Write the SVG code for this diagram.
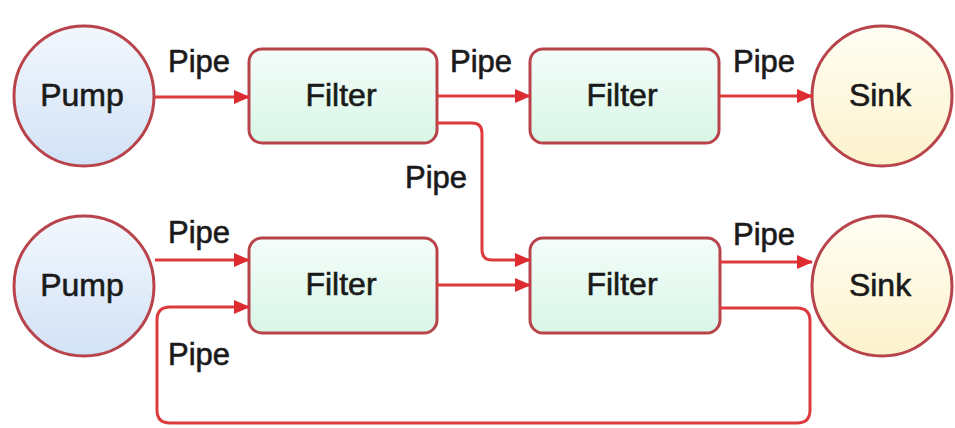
<svg xmlns="http://www.w3.org/2000/svg" width="955" height="428" viewBox="0 0 955 428">
<defs>
<linearGradient id="gPump" x1="0" y1="0" x2="0" y2="1"><stop offset="0" stop-color="#f2f7fd"/><stop offset="1" stop-color="#d2e2f6"/></linearGradient>
<linearGradient id="gSink" x1="0" y1="0" x2="0" y2="1"><stop offset="0" stop-color="#fffef4"/><stop offset="1" stop-color="#fcf2cc"/></linearGradient>
<linearGradient id="gFilter" x1="0" y1="0" x2="0" y2="1"><stop offset="0" stop-color="#f4fdfa"/><stop offset="1" stop-color="#d8f6e6"/></linearGradient>
<marker id="arr" markerWidth="16" markerHeight="14" refX="15" refY="7" orient="auto" markerUnits="userSpaceOnUse"><path d="M0,0 L16,7 L0,14 Z" fill="#dd2b30"/></marker>
<style>
.node{stroke:#b8434b;stroke-width:3}
.lbl{font-family:"Liberation Sans",Arial,sans-serif;font-size:32px;fill:#1a1a1a;stroke:#1a1a1a;stroke-width:0.6;text-anchor:middle}
.pipe{font-family:"Liberation Sans",Arial,sans-serif;font-size:31px;fill:#1a1a1a;stroke:#1a1a1a;stroke-width:0.6;text-anchor:middle}
.conn{fill:none;stroke:#dd3a3e;stroke-width:3}
</style>
</defs>
<rect width="955" height="428" fill="#ffffff"/>
<g id="pump1"><circle class="node" cx="84" cy="96" r="70" fill="url(#gPump)"/><text class="lbl" x="82" y="106">Pump</text></g>
<g id="filter1"><rect class="node" x="249" y="49" width="188" height="94" rx="13" fill="url(#gFilter)"/><text class="lbl" x="341" y="106">Filter</text></g>
<g id="filter2"><rect class="node" x="530" y="49" width="189" height="94" rx="13" fill="url(#gFilter)"/><text class="lbl" x="622" y="106">Filter</text></g>
<g id="sink1"><circle class="node" cx="882" cy="96" r="70" fill="url(#gSink)"/><text class="lbl" x="880" y="106">Sink</text></g>
<g id="pump2"><circle class="node" cx="84" cy="286" r="70" fill="url(#gPump)"/><text class="lbl" x="82" y="296">Pump</text></g>
<g id="filter3"><rect class="node" x="249" y="238" width="188" height="95" rx="13" fill="url(#gFilter)"/><text class="lbl" x="341" y="295">Filter</text></g>
<g id="filter4"><rect class="node" x="530" y="238" width="190" height="95" rx="13" fill="url(#gFilter)"/><text class="lbl" x="622" y="295">Filter</text></g>
<g id="sink2"><circle class="node" cx="882" cy="286" r="70" fill="url(#gSink)"/><text class="lbl" x="880" y="296">Sink</text></g>
<g id="connectors">
<path class="conn" d="M155,97 L249,97" marker-end="url(#arr)"/>
<path class="conn" d="M437,96 L530,96" marker-end="url(#arr)"/>
<path class="conn" d="M719,96 L812,96" marker-end="url(#arr)"/>
<path class="conn" d="M437,123 L472,123 Q482,123 482,133 L482,250 Q482,260 492,260 L530,260" marker-end="url(#arr)"/>
<path class="conn" d="M155,260 L249,260" marker-end="url(#arr)"/>
<path class="conn" d="M437,285 L530,285" marker-end="url(#arr)"/>
<path class="conn" d="M720,262 L812,262" marker-end="url(#arr)"/>
<path class="conn" d="M720,308 L797,308 Q810,308 810,321 L810,410 Q810,423 797,423 L170,423 Q157,423 157,410 L157,320 Q157,307 170,307 L249,307" marker-end="url(#arr)"/>
<text class="pipe" x="199" y="72">Pipe</text>
<text class="pipe" x="481" y="72">Pipe</text>
<text class="pipe" x="764" y="72">Pipe</text>
<text class="pipe" x="436" y="188">Pipe</text>
<text class="pipe" x="199" y="243">Pipe</text>
<text class="pipe" x="764" y="245">Pipe</text>
<text class="pipe" x="199" y="365">Pipe</text>
</g>
</svg>
